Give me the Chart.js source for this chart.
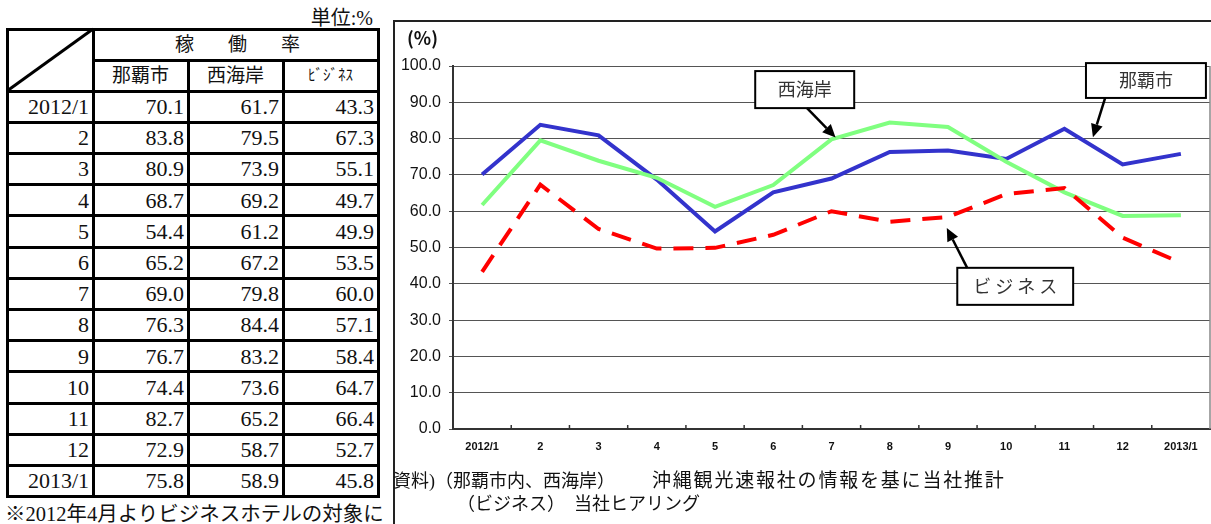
<!DOCTYPE html>
<html>
<head>
<meta charset="utf-8">
<script src="https://cdn.jsdelivr.net/npm/chart.js@4.4.0/dist/chart.umd.min.js"></script>
<style>
  body { margin: 0; width: 1211px; height: 524px; overflow: hidden; background: #fff; position: relative;
         font-family: 'Liberation Serif', 'Noto Sans CJK JP', serif; color: #111; }
  #unit { position: absolute; left: 280px; top: 2px; width: 93px; text-align: right; font-size: 20px; }
  #tbl { position: absolute; left: 0; top: 0; }
  .ln { position: absolute; background: #000; }
  .cell { position: absolute; font-size: 22px; text-align: right; box-sizing: border-box; padding-right: 4px; white-space: nowrap; }
  .head { text-align: center; padding: 0; font-size: 19px; }
  #note { position: absolute; left: 5px; top: 497px; font-size: 20.5px; white-space: nowrap; }
  #frame { position: absolute; left: 393px; top: 20px; width: 830px; height: 520px;
           border-left: 2px solid #222; border-top: 2px solid #222; }
  #wrap { position: absolute; left: 395px; top: 22px; }
  .src { position: absolute; font-size: 18px; white-space: nowrap; }
</style>
</head>
<body>
<div id="unit">単位:%</div>
<div id="tbl"></div>
<div id="note">※2012年4月よりビジネスホテルの対象に</div>
<div id="frame"></div>
<div id="wrap"><canvas id="occChart" width="816" height="502"></canvas></div>
<div class="src" style="left:393px; top:466px;">資料)（那覇市内、西海岸）</div>
<div class="src" style="left:652px; top:465px; font-size:19px; letter-spacing:1.8px;">沖縄観光速報社の情報を基に当社推計</div>
<div class="src" style="left:457px; top:489px;">（ビジネス）　当社ヒアリング</div>

<script>
// 月別 稼働率 (%)
const months = ['2012/1', '2', '3', '4', '5', '6', '7', '8', '9', '10', '11', '12', '2013/1'];
const naha   = [70.1, 83.8, 80.9, 68.7, 54.4, 65.2, 69.0, 76.3, 76.7, 74.4, 82.7, 72.9, 75.8];
const nishi  = [61.7, 79.5, 73.9, 69.2, 61.2, 67.2, 79.8, 84.4, 83.2, 73.6, 65.2, 58.7, 58.9];
const biz    = [43.3, 67.3, 55.1, 49.7, 49.9, 53.5, 60.0, 57.1, 58.4, 64.7, 66.4, 52.7, 45.8];
const colNames = ['那覇市', '西海岸', 'ﾋﾞｼﾞﾈｽ'];

// ---- 左の表 ----
const tbl = document.getElementById('tbl');
const colX = [7, 93, 188, 283, 378];
const rowY = [29, 60, 91];
for (let i = 1; i <= months.length; i++) rowY.push(91 + 31.2 * i);
const bottom = rowY[rowY.length - 1];

function line(x, y, w, h) {
  const d = document.createElement('div');
  d.className = 'ln';
  d.style.left = x + 'px'; d.style.top = y + 'px';
  d.style.width = w + 'px'; d.style.height = h + 'px';
  tbl.appendChild(d);
}
function cell(text, x0, x1, y0, y1, cls) {
  const d = document.createElement('div');
  d.className = 'cell' + (cls ? ' ' + cls : '');
  d.style.left = x0 + 'px'; d.style.top = y0 + 'px';
  d.style.width = (x1 - x0) + 'px'; d.style.height = (y1 - y0) + 'px';
  d.style.lineHeight = (y1 - y0) + 'px';
  d.textContent = text;
  tbl.appendChild(d);
  return d;
}

// 罫線
rowY.forEach((y, i) => {
  if (i === 1) line(colX[1] - 1, y - 1.5, colX[4] - colX[1] + 3, 3);
  else line(colX[0] - 1.5, y - 1.5, colX[4] - colX[0] + 3, 3);
});
line(colX[0] - 1.5, rowY[0], 3, bottom - rowY[0]);
line(colX[1] - 1.5, rowY[0], 3, bottom - rowY[0]);
line(colX[2] - 1.5, rowY[1], 3, bottom - rowY[1]);
line(colX[3] - 1.5, rowY[1], 3, bottom - rowY[1]);
line(colX[4] - 1.5, rowY[0], 3, bottom - rowY[0]);

// 斜線
const svgNS = 'http://www.w3.org/2000/svg';
const svg = document.createElementNS(svgNS, 'svg');
svg.setAttribute('width', 100); svg.setAttribute('height', 70);
svg.style.position = 'absolute'; svg.style.left = '0px'; svg.style.top = '25px';
const diag = document.createElementNS(svgNS, 'line');
diag.setAttribute('x1', colX[0]); diag.setAttribute('y1', rowY[2] - 25);
diag.setAttribute('x2', colX[1]); diag.setAttribute('y2', rowY[0] - 25);
diag.setAttribute('stroke', '#000'); diag.setAttribute('stroke-width', 3);
svg.appendChild(diag);
tbl.appendChild(svg);

// 見出し
const title = cell('', colX[1], colX[4], rowY[0], rowY[1], 'head');
title.style.display = 'flex';
title.style.justifyContent = 'space-between';
title.style.padding = '0 78px 0 82px';
['稼', '働', '率'].forEach(c => { const s = document.createElement('span'); s.textContent = c; title.appendChild(s); });
colNames.forEach((n, i) => {
  const c = cell(n, colX[i + 1], colX[i + 2], rowY[1], rowY[2], 'head');
  if (i === 2) c.style.fontSize = '15px';
});

// データ行
months.forEach((m, r) => {
  const y0 = rowY[r + 2], y1 = rowY[r + 3];
  cell(m, colX[0], colX[1], y0, y1);
  cell(naha[r].toFixed(1), colX[1], colX[2], y0, y1);
  cell(nishi[r].toFixed(1), colX[2], colX[3], y0, y1);
  cell(biz[r].toFixed(1), colX[3], colX[4], y0, y1);
});

// ---- 折れ線グラフ ----
const callouts = [
  { text: '西海岸',   box: [4.69, 6.39, 98.6, 88.4],  from: [5.58, 88.4], to: [6.07, 80.3], spacing: 0 },
  { text: '那覇市',   box: [10.37, 12.43, 100.8, 91.2], from: [10.70, 91.2], to: [10.49, 80.4], spacing: 0 },
  { text: 'ビジネス', box: [8.16, 10.15, 44.4, 34.2], from: [8.33, 44.4], to: [7.98, 55.4], spacing: 4 }
];

const extras = {
  id: 'extras',
  afterDatasetsDraw(chart) {
    const { ctx, chartArea: a, scales: { x, y } } = chart;
    ctx.save();
    // 右枠
    ctx.strokeStyle = '#888';
    ctx.lineWidth = 1.5;
    ctx.beginPath(); ctx.moveTo(a.right, a.top); ctx.lineTo(a.right, a.bottom); ctx.stroke();
    // 目盛(内向き)
    ctx.strokeStyle = '#333';
    ctx.lineWidth = 1.5;
    for (let i = 1; i < months.length; i++) {
      const px = (x.getPixelForValue(i - 1) + x.getPixelForValue(i)) / 2;
      ctx.beginPath(); ctx.moveTo(px, a.bottom); ctx.lineTo(px, a.bottom - 4); ctx.stroke();
    }
    // (%)
    ctx.fillStyle = '#111';
    ctx.font = 'bold 18px "Noto Sans CJK JP"';
    ctx.textBaseline = 'middle';
    ctx.textAlign = 'left';
    ctx.fillText('(%)', 12, 16);

    // 吹き出し
    callouts.forEach(c => {
      const x0 = x.getPixelForValue(c.box[0]), x1 = x.getPixelForValue(c.box[1]);
      const y0 = y.getPixelForValue(c.box[2]), y1 = y.getPixelForValue(c.box[3]);
      ctx.fillStyle = '#fff';
      ctx.fillRect(x0, y0, x1 - x0, y1 - y0);
      ctx.strokeStyle = '#000';
      ctx.lineWidth = 2;
      ctx.strokeRect(x0, y0, x1 - x0, y1 - y0);
      ctx.fillStyle = '#333';
      ctx.font = '18px "Noto Sans CJK JP"';
      ctx.textAlign = 'center';
      ctx.letterSpacing = c.spacing + 'px';
      ctx.fillText(c.text, (x0 + x1) / 2 + c.spacing / 2, (y0 + y1) / 2);
      ctx.letterSpacing = '0px';

      const sx = x.getPixelForValue(c.from[0]), sy = y.getPixelForValue(c.from[1]);
      const tx = x.getPixelForValue(c.to[0]), ty = y.getPixelForValue(c.to[1]);
      const ang = Math.atan2(ty - sy, tx - sx);
      const head = 13, half = 6;
      const bx = tx - head * Math.cos(ang), by = ty - head * Math.sin(ang);
      ctx.strokeStyle = '#000';
      ctx.lineWidth = 2.5;
      ctx.beginPath(); ctx.moveTo(sx, sy); ctx.lineTo(bx, by); ctx.stroke();
      ctx.fillStyle = '#000';
      ctx.beginPath();
      ctx.moveTo(tx, ty);
      ctx.lineTo(bx + half * Math.sin(ang), by - half * Math.cos(ang));
      ctx.lineTo(bx - half * Math.sin(ang), by + half * Math.cos(ang));
      ctx.closePath(); ctx.fill();
    });
    ctx.restore();
  }
};

const occChart = new Chart(document.getElementById('occChart'), {
  type: 'line',
  data: {
    labels: months,
    datasets: [
      { label: '那覇市', data: naha, borderColor: '#3333CC', backgroundColor: '#3333CC',
        borderWidth: 4, pointRadius: 0, tension: 0, order: 3 },
      { label: '西海岸', data: nishi, borderColor: '#80FF80', backgroundColor: '#80FF80',
        borderWidth: 4, pointRadius: 0, tension: 0, order: 2 },
      { label: 'ビジネス', data: biz, borderColor: '#FF0000', backgroundColor: '#FF0000',
        borderWidth: 4, borderDash: [20, 12], pointRadius: 0, tension: 0, order: 1 }
    ]
  },
  options: {
    responsive: false,
    animation: false,
    devicePixelRatio: 1,
    layout: { padding: { top: 44, right: 1, left: 0, bottom: 0 } },
    plugins: { legend: { display: false }, tooltip: { enabled: false } },
    scales: {
      x: {
        offset: true,
        afterFit: s => { s.height = 95; },
        grid: { display: true, drawOnChartArea: false, drawTicks: false },
        border: { display: true, color: '#333', width: 2 },
        ticks: { color: '#111', padding: 11, maxRotation: 0, autoSkip: false,
                 font: { family: '"Liberation Sans", Arial', size: 11, weight: 'bold' } }
      },
      y: {
        min: 0, max: 100,
        afterFit: s => { s.width = 58; },
        grid: { color: '#555', lineWidth: 1, tickLength: 4 },
        border: { display: true, color: '#333', width: 2 },
        ticks: { stepSize: 10, color: '#111', padding: 8,
                 callback: v => v.toFixed(1),
                 font: { family: '"Liberation Sans", Arial', size: 16 } }
      }
    }
  },
  plugins: [extras]
});
</script>
</body>
</html>
